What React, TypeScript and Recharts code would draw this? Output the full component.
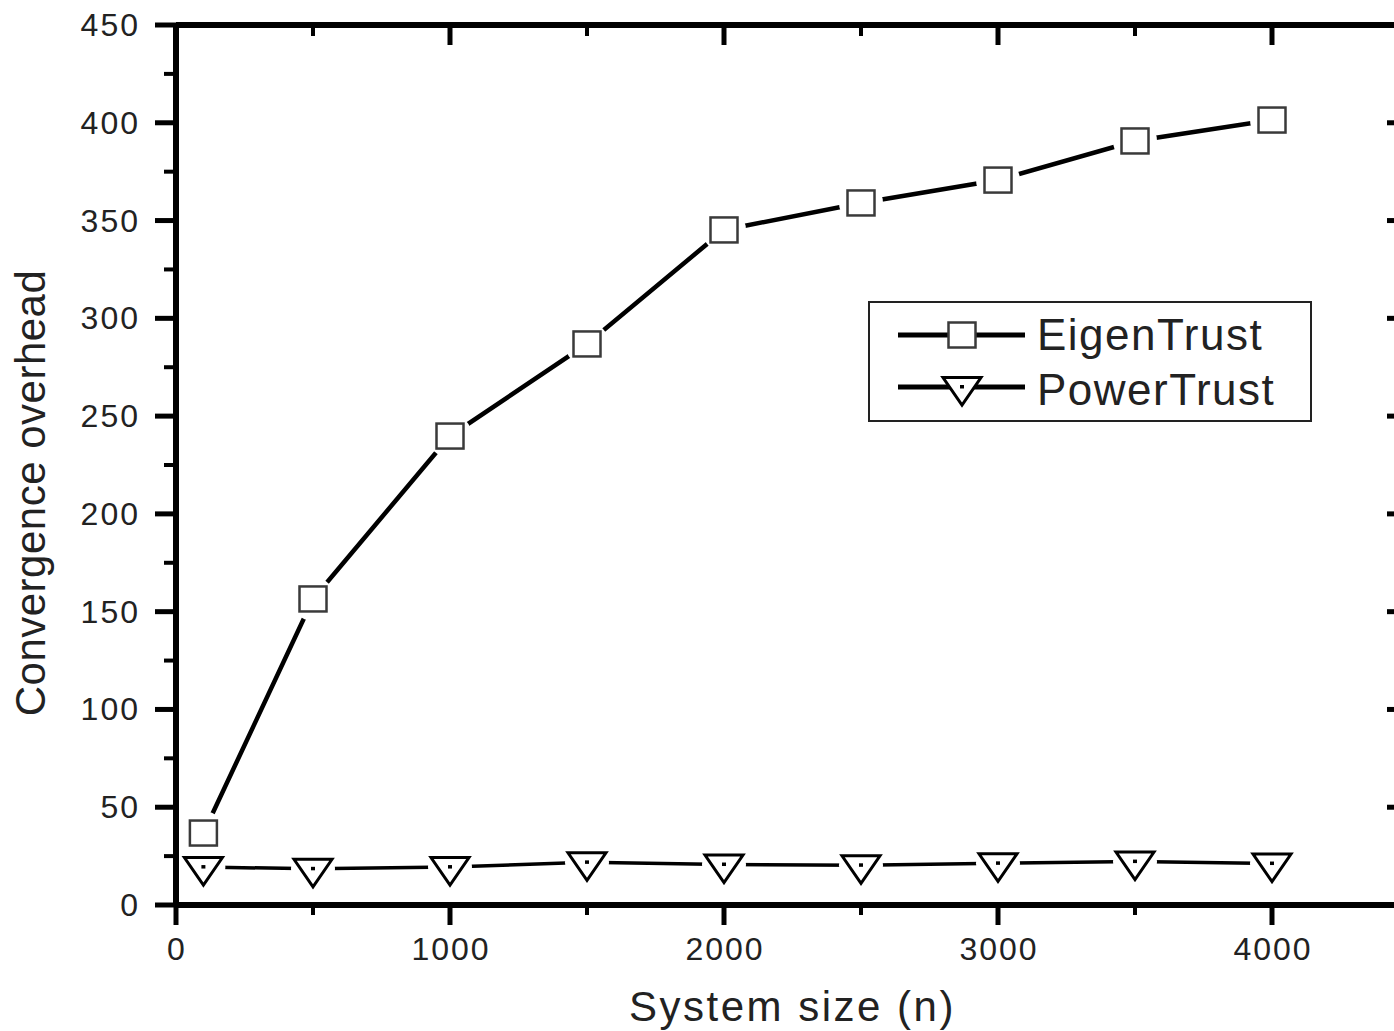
import React from "react";
import { LineChart, Line, XAxis, YAxis, Legend } from "recharts";

const systemSizes = [100, 500, 1000, 1500, 2000, 2500, 3000, 3500, 4000];
const eigenTrust = [36.8, 156.5, 239.8, 286.9, 345.2, 359, 370.7, 390.7, 401.4];
const powerTrust = [19.4, 18.5, 19.4, 21.8, 20.7, 20.3, 21.3, 22.2, 21.2];

const xTicks = [0, 500, 1000, 1500, 2000, 2500, 3000, 3500, 4000, 4500];
const yTicks = [
  0, 25, 50, 75, 100, 125, 150, 175, 200, 225, 250, 275, 300, 325, 350, 375,
  400, 425, 450,
];
const seriesNames = ["EigenTrust", "PowerTrust"];

const FONT = '"Liberation Sans", Arial, Helvetica, sans-serif';
const INK = "#000";

const data = systemSizes.map((n, i) => ({
  n,
  eigen: eigenTrust[i],
  power: powerTrust[i],
}));

function SquareMark({ cx, cy, halo }: { cx: number; cy: number; halo?: boolean }) {
  return (
    <g>
      {halo && <circle cx={cx} cy={cy} r={22} fill="#fff" />}
      <rect
        x={cx - 13.5}
        y={cy - 12.5}
        width={27}
        height={25}
        fill="#fff"
        stroke="#3a3a3a"
        strokeWidth={2.5}
      />
    </g>
  );
}

function TriMark({ cx, cy, halo }: { cx: number; cy: number; halo?: boolean }) {
  const pts = `${cx - 19},${cy - 9.5} ${cx + 19},${cy - 9.5} ${cx},${cy + 18}`;
  return (
    <g>
      {halo && <circle cx={cx} cy={cy} r={22} fill="#fff" />}
      <polygon points={pts} fill="#fff" stroke={INK} strokeWidth={3} strokeLinejoin="miter" />
      <rect x={cx - 2} y={cy - 2} width={4} height={3.5} fill={INK} />
    </g>
  );
}

// ticks: major ones get labels, minor ones only short lines
function BottomTick({ x, y, payload }: any) {
  const major = payload.value % 1000 === 0;
  return (
    <g>
      <line x1={x} x2={x} y1={y} y2={y + (major ? 20 : 10)} stroke={INK} strokeWidth={major ? 5 : 4} />
      {major && (
        <text
          x={x + 1}
          y={y + 55}
          textAnchor="middle"
          fontSize={32}
          letterSpacing={2}
          fontFamily={FONT}
          fill="#222"
        >
          {payload.value}
        </text>
      )}
    </g>
  );
}

function TopTick({ x, y, payload }: any) {
  const major = payload.value % 1000 === 0;
  return (
    <line x1={x} x2={x} y1={y} y2={y + (major ? 20 : 11)} stroke={INK} strokeWidth={major ? 5 : 4} />
  );
}

function LeftTick({ x, y, payload }: any) {
  const major = payload.value % 50 === 0;
  return (
    <g>
      <line x1={x - (major ? 21 : 12)} x2={x} y1={y} y2={y} stroke={INK} strokeWidth={major ? 5 : 4} />
      {major && (
        <text
          x={x - 36}
          y={y + 11}
          textAnchor="end"
          fontSize={32}
          letterSpacing={2}
          fontFamily={FONT}
          fill="#222"
        >
          {payload.value}
        </text>
      )}
    </g>
  );
}

function RightTick({ x, y, payload }: any) {
  const major = payload.value % 50 === 0;
  return (
    <line x1={x - (major ? 22 : 12)} x2={x} y1={y} y2={y} stroke={INK} strokeWidth={major ? 5 : 4} />
  );
}

function LegendBox() {
  const textStyle = { fontSize: 44, letterSpacing: 1.5, fontFamily: FONT, fill: "#222" };
  return (
    <svg width={444} height={121}>
      <rect x={1} y={1} width={442} height={119} fill="#fff" stroke="#222" strokeWidth={2} />
      <line x1={30} x2={157} y1={34} y2={34} stroke={INK} strokeWidth={5} />
      <SquareMark cx={94} cy={34} />
      <text x={169} y={49} {...textStyle}>
        {seriesNames[0]}
      </text>
      <line x1={30} x2={157} y1={86} y2={86} stroke={INK} strokeWidth={5} />
      <TriMark cx={94} cy={86} />
      <text x={169} y={104} {...textStyle}>
        {seriesNames[1]}
      </text>
    </svg>
  );
}

export default function App() {
  const axisLine = { stroke: INK, strokeWidth: 6 };
  return (
    <div
      style={{
        position: "absolute",
        left: 0,
        top: 0,
        width: 1394,
        height: 1031,
        overflow: "hidden",
        background: "#fff",
      }}
    >
      <LineChart
        width={1450}
        height={1031}
        data={data}
        margin={{ top: 24, right: 11, bottom: 0, left: 0 }}
      >
        <XAxis
          xAxisId="bottom"
          dataKey="n"
          type="number"
          domain={[0, 4500]}
          ticks={xTicks}
          interval={0}
          height={126}
          tickSize={0}
          tickMargin={0}
          tickLine={false}
          axisLine={axisLine}
          tick={<BottomTick />}
          label={(props: any) => {
            const vb = props.viewBox;
            return (
              <text
                x={vb.x + vb.width / 2}
                y={1021}
                textAnchor="middle"
                fontSize={42}
                letterSpacing={2.5}
                fontFamily={FONT}
                fill="#222"
              >
                System size (n)
              </text>
            );
          }}
        />
        <XAxis
          xAxisId="top"
          orientation="top"
          dataKey="n"
          type="number"
          domain={[0, 4500]}
          ticks={xTicks}
          interval={0}
          height={1}
          tickSize={0}
          tickMargin={0}
          tickLine={false}
          axisLine={axisLine}
          tick={<TopTick />}
        />
        <YAxis
          yAxisId="left"
          type="number"
          domain={[0, 450]}
          ticks={yTicks}
          interval={0}
          width={176}
          tickSize={0}
          tickMargin={0}
          tickLine={false}
          axisLine={axisLine}
          tick={<LeftTick />}
          label={() => (
            <text
              transform="translate(45, 493) rotate(-90)"
              textAnchor="middle"
              fontSize={42}
              letterSpacing={0.5}
              fontFamily={FONT}
              fill="#222"
            >
              Convergence overhead
            </text>
          )}
        />
        <YAxis
          yAxisId="right"
          orientation="right"
          dataKey="eigen"
          type="number"
          domain={[0, 450]}
          ticks={yTicks}
          interval={0}
          width={30}
          tickSize={0}
          tickMargin={0}
          tickLine={false}
          axisLine={axisLine}
          tick={<RightTick />}
        />
        <Legend
          layout="vertical"
          align="center"
          verticalAlign="middle"
          content={() => <LegendBox />}
          wrapperStyle={{ left: 868, top: 301, width: 444, height: 121 }}
        />
        <Line
          xAxisId="bottom"
          yAxisId="left"
          type="linear"
          dataKey="power"
          name={seriesNames[1]}
          stroke={INK}
          strokeWidth={3.5}
          isAnimationActive={false}
          activeDot={false}
          dot={(p: any) => <TriMark key={`p${p.index}`} cx={p.cx} cy={p.cy} halo />}
        />
        <Line
          xAxisId="bottom"
          yAxisId="left"
          type="linear"
          dataKey="eigen"
          name={seriesNames[0]}
          stroke={INK}
          strokeWidth={4.5}
          isAnimationActive={false}
          activeDot={false}
          dot={(p: any) => <SquareMark key={`e${p.index}`} cx={p.cx} cy={p.cy} halo />}
        />
      </LineChart>
    </div>
  );
}
